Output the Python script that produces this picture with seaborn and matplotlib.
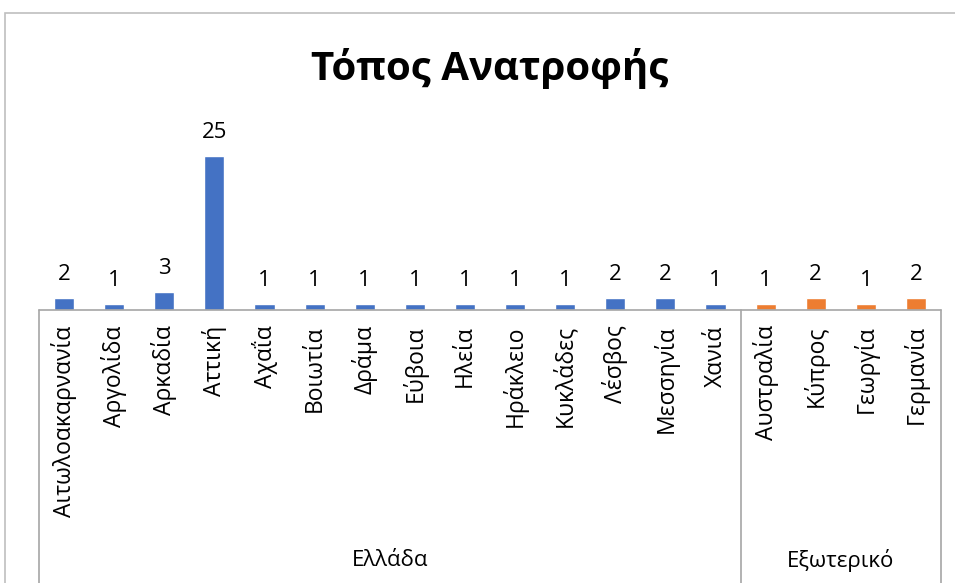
import matplotlib
matplotlib.use("Agg")
import matplotlib.pyplot as plt
import matplotlib.patches as mpatches
import matplotlib.transforms as mtransforms
import seaborn as sns
import pandas as pd

# Place of upbringing, counts per region
regions = ["Αιτωλοακαρνανία", "Αργολίδα", "Αρκαδία", "Αττική", "Αχαΐα", "Βοιωτία",
           "Δράμα", "Εύβοια", "Ηλεία", "Ηράκλειο", "Κυκλάδες", "Λέσβος", "Μεσσηνία",
           "Χανιά", "Αυστραλία", "Κύπρος", "Γεωργία", "Γερμανία"]
counts = [2, 1, 3, 25, 1, 1, 1, 1, 1, 1, 1, 2, 2, 1, 1, 2, 1, 2]
groups = ["Ελλάδα"] * 14 + ["Εξωτερικό"] * 4
group_names = ["Ελλάδα", "Εξωτερικό"]
title = "Τόπος Ανατροφής"

df = pd.DataFrame({"region": regions, "count": counts, "group": groups})

sns.set_theme(style="white")
plt.rcParams["font.family"] = ["Open Sans", "DejaVu Sans"]

W, H = 955, 583
fig = plt.figure(figsize=(W / 100, H / 100), dpi=100)

# plot area in pixel terms
x0, x1 = 39, 941
y_base, y_top = 310, 125
ax = fig.add_axes([x0 / W, (H - y_base) / H, (x1 - x0) / W, (y_base - y_top) / H])

sns.barplot(data=df, x="region", y="count", hue="group", dodge=False,
            palette={"Ελλάδα": "#4472C4", "Εξωτερικό": "#ED7D31"},
            saturation=1, width=0.4, legend=False, ax=ax)

ax.set_xlim(-0.5, len(regions) - 0.5)
ax.set_ylim(0, 30)
for cont in ax.containers:
    ax.bar_label(cont, labels=[f"{int(v)}" for v in cont.datavalues],
                 padding=9, fontsize=16, color="#000000")

ax.set_yticks([])
ax.set_xlabel("")
ax.set_ylabel("")
for s in ax.spines.values():
    s.set_visible(False)
ax.tick_params(axis="x", length=0, pad=11)
ax.set_xticks(range(len(regions)))
ax.set_xticklabels(regions, rotation=90, fontsize=16.5, va="top", ha="center", color="#000000")

# multi-level category axis lines
line_c = "#A6A6A6"
trans = mtransforms.blended_transform_factory(ax.transData, ax.transAxes)
y_low = -(H - y_base + 5) / (y_base - y_top)
ax.plot([-0.5, len(regions) - 0.5], [0, 0], transform=trans, color=line_c, lw=1.2, clip_on=False)
n_gr = groups.count("Ελλάδα")
for xv in [-0.5, n_gr - 0.5, len(regions) - 0.5]:
    ax.plot([xv, xv], [0, y_low], transform=trans, color=line_c, lw=1.2, clip_on=False)

# group labels
y_grp = -(561 - y_base) / (y_base - y_top)
ax.text((-0.5 + n_gr - 0.5) / 2, y_grp, group_names[0], transform=trans,
        ha="center", va="center", fontsize=16, color="#000000")
ax.text((n_gr - 0.5 + len(regions) - 0.5) / 2, y_grp, group_names[1], transform=trans,
        ha="center", va="center", fontsize=16, color="#000000")

# title
fig.text(490 / W, 1 - 80 / H, title, ha="center", va="baseline",
         fontsize=29, fontweight="bold", color="#000000")

# chart border
fig.patches.append(mpatches.Rectangle((5 / W, -0.05), 1.1, 1 - 13 / H + 0.05,
                                      transform=fig.transFigure, fill=False,
                                      edgecolor="#BFBFBF", lw=1.2))

fig.savefig("out.png", dpi=100, facecolor="white")
